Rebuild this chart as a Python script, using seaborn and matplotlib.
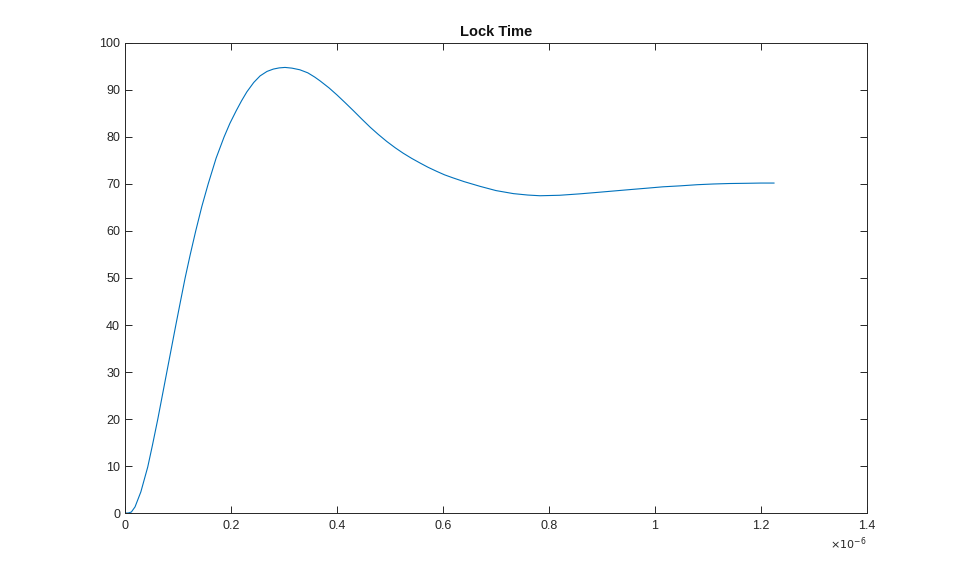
import numpy as np
import pandas as pd
import matplotlib
matplotlib.use("Agg")
import matplotlib.pyplot as plt
import seaborn as sns
from matplotlib.ticker import FuncFormatter, MultipleLocator

# time in units of 1e-6 s
time_us = [0.000, 0.006, 0.012, 0.019, 0.030, 0.043, 0.052, 0.062, 0.070, 0.079,
           0.087, 0.096, 0.104, 0.1135, 0.123, 0.1335, 0.145, 0.157, 0.172, 0.187,
           0.198, 0.210, 0.220, 0.230, 0.243, 0.255, 0.268, 0.280, 0.291, 0.302,
           0.315, 0.330, 0.345, 0.358, 0.368, 0.385, 0.400, 0.415, 0.431, 0.447,
           0.463, 0.478, 0.494, 0.510, 0.525, 0.541, 0.557, 0.572, 0.588, 0.603,
           0.619, 0.640, 0.670, 0.700, 0.733, 0.760, 0.783, 0.820, 0.858, 0.890,
           0.921, 0.952, 0.984, 1.015, 1.047, 1.080, 1.110, 1.140, 1.173, 1.200,
           1.225]
lock = [0.0, 0.0, 0.2, 1.3, 4.5, 9.8, 14.5, 20.0, 24.7, 30.0,
        34.7, 40.0, 44.6, 50.0, 54.9, 60.0, 65.2, 70.0, 75.5, 80.0,
        82.9, 85.6, 87.7, 89.6, 91.6, 93.0, 93.95, 94.45, 94.7, 94.8,
        94.65, 94.3, 93.65, 92.75, 91.95, 90.45, 88.95, 87.35, 85.6, 83.8,
        82.05, 80.55, 79.05, 77.7, 76.55, 75.45, 74.45, 73.55, 72.7, 71.95,
        71.3, 70.5, 69.5, 68.6, 67.95, 67.65, 67.5, 67.6, 67.9, 68.2,
        68.5, 68.8, 69.1, 69.4, 69.6, 69.85, 70.0, 70.1, 70.15, 70.2,
        70.2]

df = pd.DataFrame({"t": time_us, "v": lock})

sns.set_style("ticks")
plt.rcParams['font.family'] = ['Liberation Sans', 'DejaVu Sans']
dark = "#262626"

fig = plt.figure(figsize=(9.59, 5.77), dpi=100)
ax = fig.add_axes([0.1303, 0.1109, 0.7737, 0.8146])
sns.lineplot(data=df, x="t", y="v", ax=ax, color="#0072BD", linewidth=0.8)

ax.set_xlim(0, 1.4)
ax.set_ylim(0, 100)
ax.xaxis.set_major_locator(MultipleLocator(0.2))
ax.yaxis.set_major_locator(MultipleLocator(10))
ax.xaxis.set_major_formatter(FuncFormatter(lambda v, p: f"{v:g}"))
ax.set_xlabel("")
ax.set_ylabel("")
ax.set_title("Lock Time", fontsize=10.5, fontweight="bold", color="#111111", pad=5)

for s in ax.spines.values():
    s.set_visible(True)
    s.set_color(dark)
    s.set_linewidth(0.7)
ax.tick_params(direction="in", top=True, right=True, length=5, width=0.7,
               colors=dark, labelsize=9, labelcolor=dark)
ax.tick_params(axis="x", pad=5)
ax.text(1.0, -0.048, r"$\times10^{-6}$", transform=ax.transAxes, ha="right",
        va="top", fontsize=8, color=dark)

fig.savefig("out.png", dpi=100)
